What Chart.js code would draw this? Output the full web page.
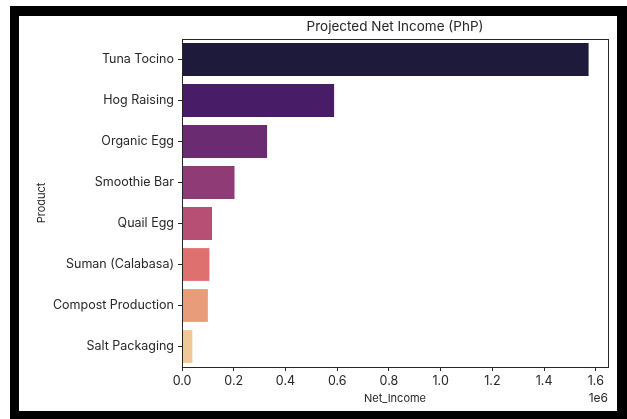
<!DOCTYPE html>
<html>
<head>
<meta charset="utf-8">
<script src="https://cdn.jsdelivr.net/npm/chart.js@4/dist/chart.umd.min.js"></script>
<style>
  html, body { margin: 0; padding: 0; background: #fff; }
  #frame {
    position: absolute; left: 10px; top: 6px;
    width: 598px; height: 395px;
    border-style: solid; border-color: #000;
    border-width: 10px 10px 8px 9px;
  }
  #wrap { position: relative; width: 598px; height: 395px; }
</style>
</head>
<body>
<div id="frame"><div id="wrap"><canvas id="myChart"></canvas></div></div>
<script>
// data
const products = ['Tuna Tocino', 'Hog Raising', 'Organic Egg', 'Smoothie Bar', 'Quail Egg', 'Suman (Calabasa)', 'Compost Production', 'Salt Packaging'];
const netIncome = [1572000, 588000, 329000, 203000, 116000, 106000, 100000, 40000];
const barColors = ['#1e1a3b', '#481c66', '#6a2b70', '#8f3b75', '#b64f73', '#de7170', '#e89c7a', '#f0c896'];
const xTicks = [0, 200000, 400000, 600000, 800000, 1000000, 1200000, 1400000, 1600000];
const chartTitle = 'Projected Net Income (PhP)';

const fontFam = 'Inter, "Noto Sans", sans-serif';
const ink = '#262626';

// plot frame, title over the plot, offset label like matplotlib
const boxPlugin = {
    id: 'box',
    afterDraw(chart) {
        const a = chart.chartArea;
        const ctx = chart.ctx;
        ctx.save();
        ctx.strokeStyle = ink;
        ctx.lineWidth = 1;
        ctx.strokeRect(a.left + 0.5, a.top + 0.5, a.right - a.left, a.bottom - a.top);
        ctx.fillStyle = ink;
        ctx.font = '12px ' + fontFam;
        ctx.textAlign = 'right';
        ctx.textBaseline = 'middle';
        ctx.fillText('1e6', a.right, a.bottom + 31);
        ctx.font = '13.5px ' + fontFam;
        ctx.textAlign = 'center';
        ctx.fillText(chartTitle, (a.left + a.right) / 2, a.top - 12);
        ctx.restore();
    }
};

const ctx = document.getElementById('myChart').getContext('2d');
const myChart = new Chart(ctx, {
    type: 'bar',
    data: {
        labels: products,
        datasets: [{
            label: 'Net_Income',
            data: netIncome,
            backgroundColor: barColors,
            borderWidth: 0,
            barPercentage: 0.8,
            categoryPercentage: 1.0
        }]
    },
    options: {
        indexAxis: 'y',
        responsive: true,
        maintainAspectRatio: false,
        animation: false,
        layout: { padding: { top: 23, right: 9, bottom: 6, left: 16 } },
        plugins: {
            legend: { display: false },
            tooltip: { enabled: false },
            title: { display: false }
        },
        scales: {
            x: {
                type: 'linear',
                min: 0,
                max: 1647000,
                afterBuildTicks: (scale) => { scale.ticks = xTicks.map(v => ({ value: v })); },
                afterFit: (scale) => { scale.height = 38; },
                grid: { display: true, drawOnChartArea: false, drawTicks: true, tickLength: 4, color: ink },
                border: { display: false },
                ticks: {
                    color: ink,
                    padding: 3,
                    font: { family: fontFam, size: 12.5 },
                    callback: (v) => (v / 1e6).toFixed(1)
                },
                title: {
                    display: true,
                    text: 'Net_Income',
                    color: ink,
                    font: { family: fontFam, size: 11 },
                    padding: { top: 0, bottom: 0 }
                }
            },
            y: {
                offset: true,
                afterFit: (scale) => { scale.width = 147; },
                grid: { display: true, drawOnChartArea: false, drawTicks: true, tickLength: 4, color: ink, offset: false },
                border: { display: false },
                ticks: {
                    color: ink,
                    padding: 4,
                    font: { family: fontFam, size: 12.5 }
                },
                title: {
                    display: true,
                    text: 'Product',
                    color: ink,
                    font: { family: fontFam, size: 11 },
                    padding: { top: 0, bottom: 8 }
                }
            }
        }
    },
    plugins: [boxPlugin]
});
</script>
</body>
</html>
